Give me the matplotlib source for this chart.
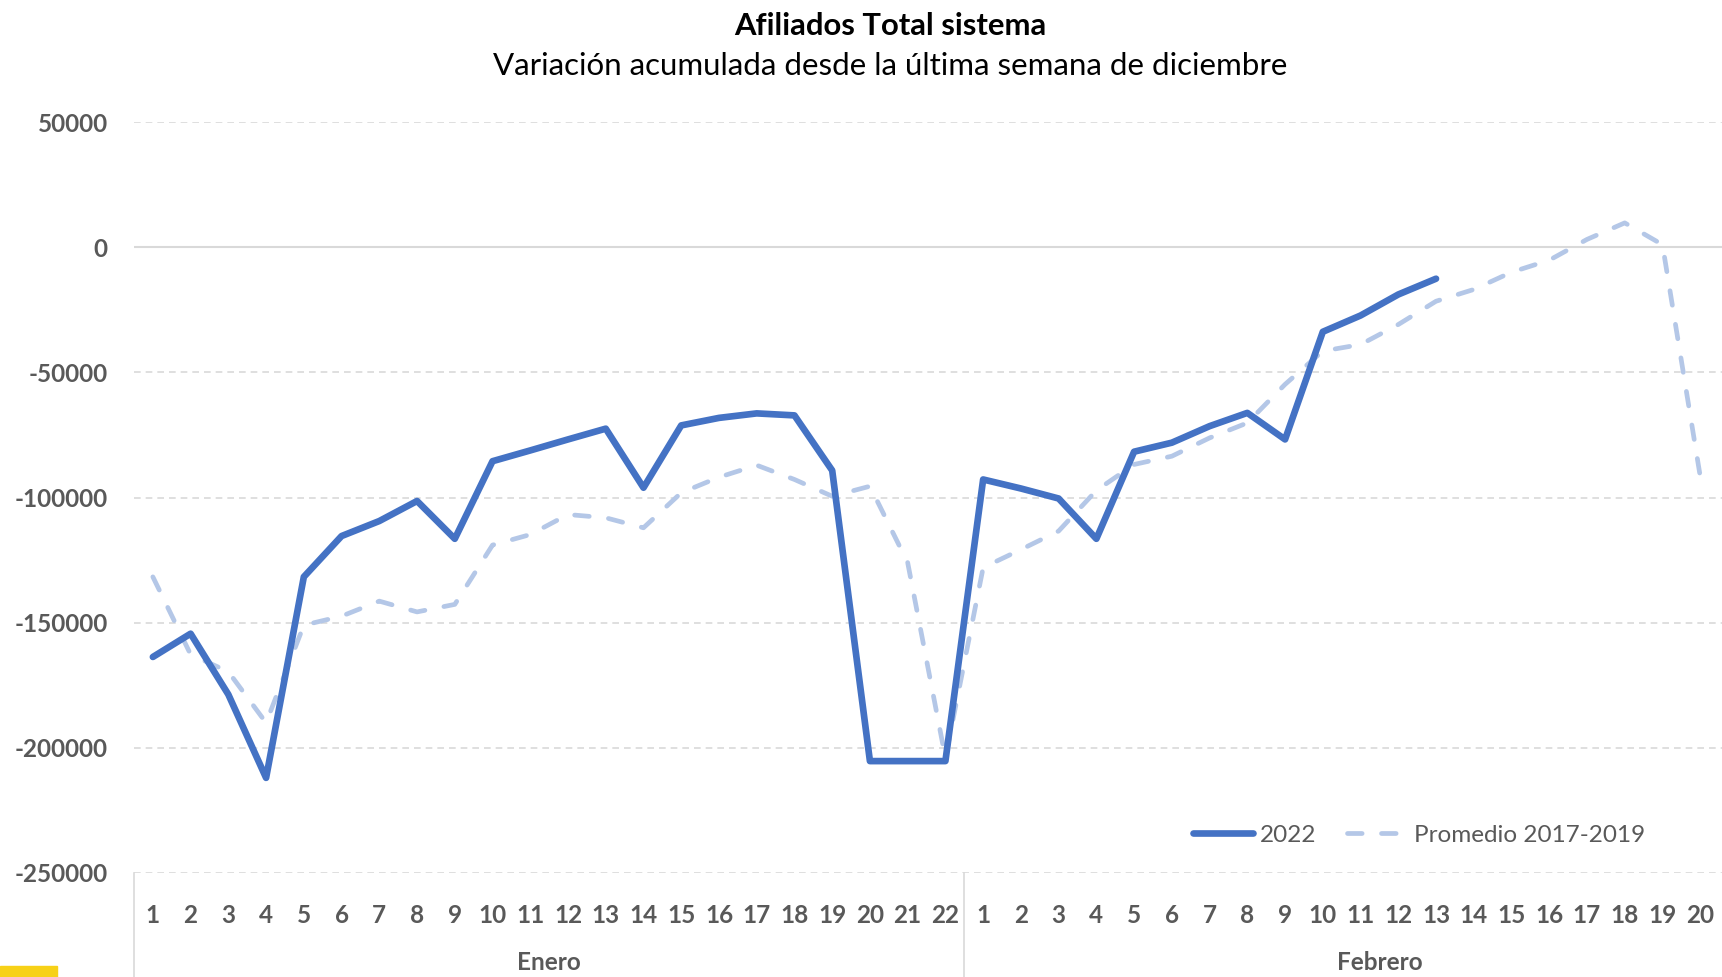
import numpy as np
import matplotlib.pyplot as plt
from matplotlib.patches import Rectangle

# Datos (el eje de Febrero llega al 22, recortado por la derecha)
dias_enero = [str(d) for d in range(1, 23)]
dias_febrero = [str(d) for d in range(1, 23)]
meses = ['Enero', 'Febrero']

afiliados_2022 = [-163700, -154400, -178700, -212000, -131700, -115400, -109400,
                  -101400, -116500, -85500, -81200, -76800, -72500, -96100,
                  -71200, -68200, -66400, -67200, -89200, -205300, -205300, -205300,
                  -92800, -96400, -100400, -116500, -81700, -78100, -71500,
                  -66200, -76800, -33800, -27300, -18900, -12600]

promedio_2017_2019 = [-131700, -162700, -169600, -190000, -151000, -147400, -141400,
                      -145700, -142700, -119000, -114800, -106800, -108100, -112100,
                      -98100, -91900, -87100, -92800, -99500, -95500, -126000, -204000,
                      -128000, -120800, -113400, -97200, -86800, -83500, -76200,
                      -70200, -54800, -41500, -38900, -30900, -21600, -16900,
                      -10000, -5200, 3100, 9700, 1000, -91500]

yticks = [50000, 0, -50000, -100000, -150000, -200000, -250000]

plt.rcParams['font.family'] = ['Lato', 'DejaVu Sans']
gris = '#595959'
rejilla = '#D9D9D9'

etiquetas = dias_enero + dias_febrero
x = np.arange(len(etiquetas))

fig = plt.figure(figsize=(17.22, 9.77), dpi=100)
ancho_cat = 37.74
ax = fig.add_axes([134 / 1722, 104 / 977, len(etiquetas) * ancho_cat / 1722, 751 / 977])

# Rejilla
for v in yticks:
    if v == 0:
        ax.axhline(v, color=rejilla, lw=1.5, zorder=1)
    else:
        ax.axhline(v, color=rejilla, lw=1.2, ls=(0, (4, 3)), zorder=1)

ax.plot(x[:len(promedio_2017_2019)], promedio_2017_2019, color='#B4C7E7', lw=3.4,
        ls=(0, (3.1, 4.1)), dash_capstyle='round', solid_joinstyle='round',
        label='Promedio 2017-2019', zorder=2)
ax.plot(x[:len(afiliados_2022)], afiliados_2022, color='#4472C4', lw=4.8,
        solid_capstyle='round', solid_joinstyle='round', label='2022', zorder=3)

ax.set_xlim(-0.5, len(etiquetas) - 0.5)
ax.set_ylim(-250000, 50000)
ax.set_yticks(yticks)
ax.set_yticklabels([str(v) for v in yticks])
ax.set_xticks(x)
ax.set_xticklabels(etiquetas)
ax.tick_params(axis='both', length=0, labelsize=17.5, labelcolor=gris)
ax.tick_params(axis='y', pad=19)
ax.tick_params(axis='x', pad=22)
for t in ax.get_xticklabels() + ax.get_yticklabels():
    t.set_fontweight('bold')
# los días que quedan fuera del recorte no se ven
for t in ax.get_xticklabels()[len(promedio_2017_2019):]:
    t.set_visible(False)
for s in ax.spines.values():
    s.set_visible(False)

# Separadores y etiquetas de mes
sep_h = 104 / 751
for xs in [-0.5, len(dias_enero) - 0.5]:
    ax.plot([xs, xs], [0, -sep_h], color=rejilla, lw=1.2,
            transform=ax.get_xaxis_transform(), clip_on=False)
centros = [(len(dias_enero) - 1) / 2, len(dias_enero) + (len(dias_febrero) - 1) / 2]
for m, c in zip(meses, centros):
    ax.text(c, -(963 - 873) / 751, m, transform=ax.get_xaxis_transform(),
            ha='center', va='center', fontsize=17.5, fontweight='bold', color=gris)

# Leyenda (posición en píxeles de figura)
h, l = ax.get_legend_handles_labels()
leg = fig.legend(h[::-1], l[::-1], loc='center', bbox_to_anchor=(1419 / 1722, 1 - 835 / 977),
                 ncol=2, frameon=False, fontsize=17.5, handlelength=2.5,
                 handletextpad=0.25, columnspacing=1.3)
for t in leg.get_texts():
    t.set_color(gris)

# Títulos
fig.text(0.517, 1 - 26 / 977, 'Afiliados Total sistema', ha='center', va='center',
         fontsize=22.3, fontweight='bold', color='black')
fig.text(0.517, 1 - 66 / 977, 'Variación acumulada desde la última semana de diciembre',
         ha='center', va='center', fontsize=22.5, color='black')

# Marca amarilla en la esquina
fig.patches.append(Rectangle((0, 0), 57 / 1722, 11 / 977, transform=fig.transFigure,
                             color='#F7D117', zorder=5))

fig.savefig('out.png', dpi=100)
